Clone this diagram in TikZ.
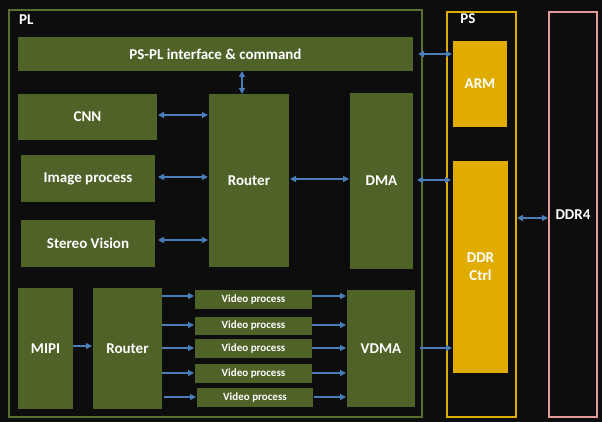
\documentclass[tikz,border=0pt]{standalone}
\usepackage{fontspec}
\setmainfont{Carlito}
\usetikzlibrary{arrows.meta}
\definecolor{bgc}{HTML}{0D0D0D}
\definecolor{olive}{HTML}{4F6228}
\definecolor{oliveframe}{HTML}{5A6E30}
\definecolor{gold}{HTML}{E0AC00}
\definecolor{pinkf}{HTML}{E29A9A}
\definecolor{arrblue}{HTML}{4A7EBB}
\tikzset{
  box/.style={fill=olive, draw=none, inner sep=0pt, outer sep=0pt, text=white,
    font=\fontsize{15}{17}\selectfont\bfseries, align=center},
  vbox/.style={box, font=\fontsize{11}{13}\selectfont\bfseries},
  gbox/.style={fill=gold, draw=none, inner sep=0pt, outer sep=0pt, text=white,
    font=\fontsize{15}{18}\selectfont\bfseries, align=center},
  frame/.style={draw, line width=2pt, fill=none, inner sep=0pt, outer sep=0pt, text=white,
    font=\fontsize{15}{17}\selectfont\bfseries},
  lbl/.style={text=white, inner sep=0pt, font=\fontsize{15}{17}\selectfont\bfseries},
  biarr/.style={draw=arrblue, line width=1.2pt, {Triangle[length=6pt,width=6pt]}-{Triangle[length=6pt,width=6pt]}},
  arr/.style={draw=arrblue, line width=1.2pt, -{Triangle[length=6pt,width=6pt]}}
}
\begin{document}
\begin{tikzpicture}[x=1pt,y=-1pt]
\fill[bgc] (0,0) rectangle (602,422);
\useasboundingbox (0,0) rectangle (602,422);
% frames
\node[frame, draw=oliveframe, minimum width=413pt, minimum height=407pt] (pl) at (215.5,213.5) {};
\node[frame, draw=gold, minimum width=69pt, minimum height=405pt] (ps) at (481.5,214.5) {};
\node[frame, draw=pinkf, minimum width=48pt, minimum height=405pt] (ddr4) at (573,214.5) {DDR4};
\node[lbl, anchor=west] (pllbl) at (19,20) {PL};
\node[lbl] (pslbl) at (468,19) {PS};
% PL boxes
\node[box, minimum width=395pt, minimum height=34pt] (pspl) at (215.5,54) {PS-PL interface \& command};
\node[box, minimum width=139pt, minimum height=46pt] (cnn) at (87.5,117) {CNN};
\node[box, minimum width=134pt, minimum height=47pt] (img) at (88,178.5) {Image process};
\node[box, minimum width=134pt, minimum height=47pt] (stereo) at (88,243.5) {Stereo Vision};
\node[box, minimum width=80pt, minimum height=173pt] (router1) at (249,180.5) {Router};
\node[box, minimum width=63pt, minimum height=176pt] (dma) at (381.5,181) {DMA};
\node[box, minimum width=55pt, minimum height=121pt] (mipi) at (45.5,348.5) {MIPI};
\node[box, minimum width=69pt, minimum height=121pt] (router2) at (127.5,348.5) {Router};
\node[vbox, minimum width=117pt, minimum height=19pt] (vp1) at (253.5,299.5) {Video process};
\node[vbox, minimum width=117pt, minimum height=18pt] (vp2) at (253.5,326) {Video process};
\node[vbox, minimum width=117pt, minimum height=19pt] (vp3) at (253.5,348.5) {Video process};
\node[vbox, minimum width=117pt, minimum height=19pt] (vp4) at (253.5,373.5) {Video process};
\node[vbox, minimum width=116pt, minimum height=19pt] (vp5) at (255,397.5) {Video process};
\node[box, minimum width=68pt, minimum height=117pt] (vdma) at (381,348.5) {VDMA};
% PS boxes
\node[gbox, minimum width=54pt, minimum height=86pt] (arm) at (480,84) {ARM};
\node[gbox, minimum width=55pt, minimum height=212pt] (ddrc) at (480.5,267) {DDR\\Ctrl};
% connectors
\draw[biarr] ([xshift=-7pt]router1.north) -- ([xshift=-7pt]router1.north |- pspl.south);
\draw[biarr, shorten <=5pt, shorten >=1pt] (pspl.east) -- (pspl.east -| arm.west);
\draw[biarr, shorten <=1pt, shorten >=1pt] ([yshift=2pt]cnn.east) -- ([yshift=2pt]cnn.east -| router1.west);
\draw[biarr, shorten <=3pt, shorten >=1pt] ([yshift=1.5pt]img.east) -- ([yshift=1.5pt]img.east -| router1.west);
\draw[biarr, shorten <=3pt, shorten >=1pt] ([yshift=3.5pt]stereo.east) -- ([yshift=3.5pt]stereo.east -| router1.west);
\draw[biarr, shorten <=1pt, shorten >=1pt] ([yshift=1.5pt]router1.east) -- ([yshift=1.5pt]router1.east -| dma.west);
\draw[biarr, shorten <=4pt, shorten >=2pt] ([yshift=1pt]dma.east) -- ([yshift=1pt]dma.east -| ddrc.west);
\draw[biarr, shorten <=1pt, shorten >=1pt] ([yshift=-3.5pt]ps.east) -- ([yshift=-3.5pt]ps.east -| ddr4.west);
\draw[arr, shorten >=1pt] ([yshift=2.5pt]mipi.east) -- ([yshift=2.5pt]mipi.east -| router2.west);
\draw[arr, shorten >=1pt] ([yshift=3.5pt]vp1.west -| router2.east) -- ([yshift=3.5pt]vp1.west);
\draw[arr, shorten >=1pt] ([yshift=1pt]vp2.west -| router2.east) -- ([yshift=1pt]vp2.west);
\draw[arr, shorten >=1pt] ([yshift=0.5pt]vp3.west -| router2.east) -- ([yshift=0.5pt]vp3.west);
\draw[arr, shorten >=1pt] ([yshift=0.5pt]vp4.west -| router2.east) -- ([yshift=0.5pt]vp4.west);
\draw[arr, shorten <=2pt, shorten >=1pt] ([yshift=0.5pt]vp5.west -| router2.east) -- ([yshift=0.5pt]vp5.west);
\draw[arr, shorten >=1pt] ([yshift=3.5pt]vp1.east) -- ([yshift=3.5pt]vp1.east -| vdma.west);
\draw[arr, shorten >=1pt] ([yshift=1pt]vp2.east) -- ([yshift=1pt]vp2.east -| vdma.west);
\draw[arr, shorten >=1pt] ([yshift=0.5pt]vp3.east) -- ([yshift=0.5pt]vp3.east -| vdma.west);
\draw[arr, shorten >=1pt] ([yshift=0.5pt]vp4.east) -- ([yshift=0.5pt]vp4.east -| vdma.west);
\draw[arr, shorten <=1pt, shorten >=1pt] ([yshift=0.5pt]vp5.east) -- ([yshift=0.5pt]vp5.east -| vdma.west);
\draw[arr, shorten <=5pt, shorten >=1pt] ([yshift=0.5pt]vdma.east) -- ([yshift=0.5pt]vdma.east -| ddrc.west);
\end{tikzpicture}
\end{document}
